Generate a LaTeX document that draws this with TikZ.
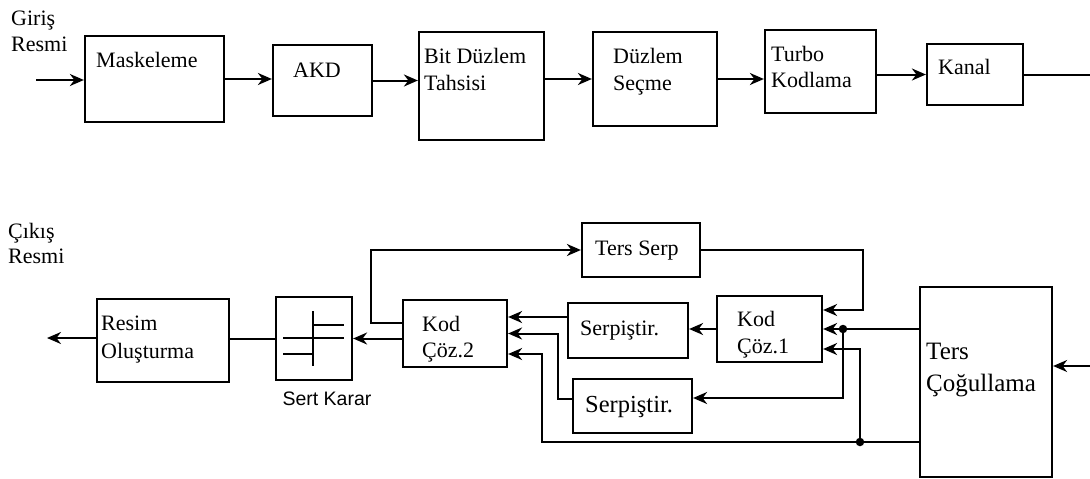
\documentclass[tikz,border=0pt]{standalone}
\usepackage{fontspec}
\setmainfont{Liberation Serif}
\newfontfamily\arialfont{Liberation Sans}
\usetikzlibrary{arrows.meta, positioning, calc}

\begin{document}
\begin{tikzpicture}[
  x=1pt, y=-1pt,
  >={Stealth[length=14pt, width=12pt, inset=4.5pt]},
  blk/.style 2 args={draw, line width=2.2pt, minimum width=#1,
    minimum height=#2, inner sep=0pt},
  txt/.style={anchor=base west, align=left, inner sep=0pt,
    font=\fontsize{22}{#1}\selectfont},
  txt/.default=27,
  arr/.style={->, line width=2pt},
  ln/.style={line width=2pt},
  dot/.style={circle, fill, inner sep=0pt, minimum size=8.5pt},
]

\useasboundingbox (0,0) rectangle (1090,479);

% === Upper chain ===
% (multi-line texts sit on the baseline of their last line)
\node[txt=26] (giris) at (11,51) {Giriş\\Resmi};
\coordinate (ina) at (36,80);

\node[blk={139}{86}] (mask) at (154.5,79) {};
\node[txt] (mask-t) at (96,67) {Maskeleme};

\node[blk={99}{71}] (akd) at (322.5,80.5) {};
\node[txt] (akd-t) at (293,77) {AKD};

\node[blk={125}{108}] (bitd) at (481.5,86) {};
\node[txt] (bitd-t) at (424,90) {Bit Düzlem\\Tahsisi};

\node[blk={124}{94}] (duzs) at (655,79) {};
\node[txt] (duzs-t) at (613,90) {Düzlem\\Seçme};

\node[blk={111}{83}] (turbo) at (820.5,71.5) {};
\node[txt=26] (turbo-t) at (771,87) {Turbo\\Kodlama};

\node[blk={96}{61}] (kanal) at (975,74.5) {};
\node[txt] (kanal-t) at (938,74) {Kanal};
\coordinate (outa) at (1090,74);

\draw[arr] (ina) -- (ina -| mask.west);
\draw[arr] (mask.east) -- (mask.east -| akd.west);
\draw[arr] (akd.east) -- (akd.east -| bitd.west);
\draw[arr] (duzs.west -| bitd.east) -- (duzs.west);
\draw[arr] (duzs.east) -- (duzs.east -| turbo.west);
\draw[arr] (kanal.west -| turbo.east) -- (kanal.west);
\draw[ln] (kanal.east) -- (kanal.east -| outa);

% === Lower chain ===
\node[txt=25] (cikis) at (8,263) {Çıkış\\Resmi};
\coordinate (outb) at (47,338);

\node[blk={132}{83}] (resim) at (163,340.5) {};
\node[txt=28] (resim-t) at (101,358) {Resim\\Oluşturma};

% Sert Karar with its threshold sign
\node[blk={76}{83}] (karar) at (314,338.5) {};
\draw[ln] (313,311) -- (313,366);
\draw[ln] (313,325) -- (344,325);
\draw[ln] (283,338) -- (344,338);
\draw[ln] (283,354) -- (313,354);
\node[anchor=base, inner sep=0pt, font=\arialfont\fontsize{19.5}{23}\selectfont]
  (karar-t) at (327,405) {Sert Karar};

\node[blk={104}{67}] (kod2) at (455,333.5) {};
\node[txt=26] (kod2-t) at (422,357) {Kod\\Çöz.2};

\node[blk={118}{54}] (tserp) at (641,250) {};
\node[txt] (tserp-t) at (595,255) {Ters Serp};

\node[blk={120}{55}] (serpa) at (628,330.5) {};
\node[txt] (serpa-t) at (580,335) {Serpiştir.};

\node[blk={119}{54}] (serpb) at (632.5,406) {};
\node[txt, font=\fontsize{24.5}{29}\selectfont] (serpb-t) at (585,412) {Serpiştir.};

\node[blk={105}{66}] (kod1) at (769.5,329) {};
\node[txt] (kod1-t) at (737,353) {Kod\\Çöz.1};

\node[blk={132}{190}] (tcog) at (986,382) {};
\node[txt, font=\fontsize{25}{32}\selectfont] (tcog-t) at (926,391) {Ters\\Çoğullama};
\coordinate (inb) at (1090,366);

\node[dot] (dota) at (843,329) {};
\node[dot] (dotb) at (860,442) {};

% === Connectors ===
\draw[arr] (outb -| resim.west) -- (outb);
\draw[ln] (karar.west) -- (karar.west -| resim.east);
\draw[arr] (karar.east -| kod2.west) -- (karar.east);
\draw[arr] ([yshift=10.5pt]kod2.west) -- ++(-31,0) |- (tserp.west);
\draw[arr] (tserp.east) -- ++(162,0) |- ([yshift=19pt]kod1.east);
\draw[arr] (kod1.west) -- (kod1.west -| serpa.east);
\draw[arr] ([yshift=13.5pt]serpa.west) -- ([yshift=16.5pt]kod2.east);
\draw[arr] ([yshift=7pt]serpb.west) -- ++(-14,0) |- (kod2.east);
\draw[arr] ([yshift=-60pt]tcog.west) -- ++(-377,0) |- ([yshift=-20.5pt]kod2.east);
\draw[arr] ([yshift=53pt]tcog.west) -- (kod1.east);
\draw[arr] (dota) |- ([yshift=8pt]serpb.east);
\draw[arr] (dotb) |- ([yshift=-20pt]kod1.east);
\draw[arr] (inb) -- (inb -| tcog.east);

\end{tikzpicture}
\end{document}
